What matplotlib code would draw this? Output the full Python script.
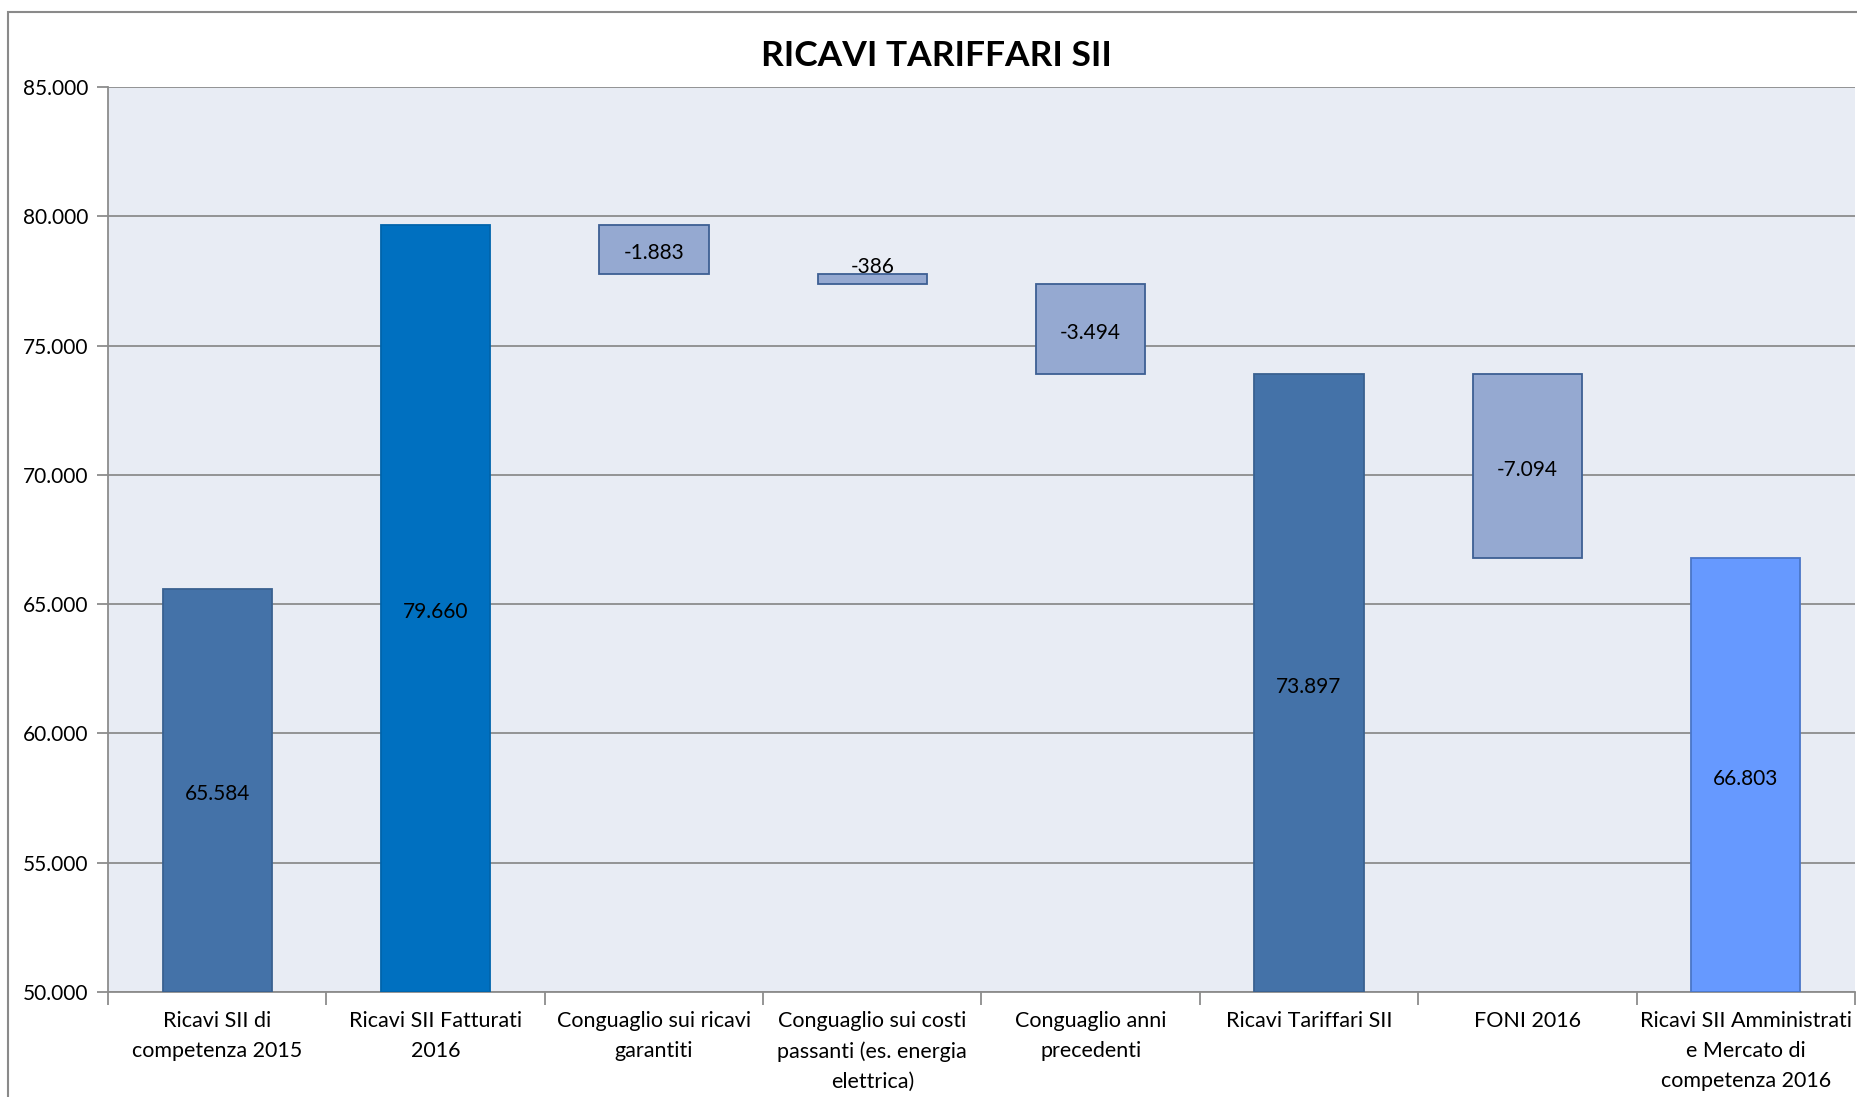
import numpy as np
import matplotlib.pyplot as plt
from matplotlib.patches import Rectangle
from matplotlib.ticker import FuncFormatter

plt.rcParams['font.family'] = ['Lato', 'DejaVu Sans']

categories = ['Ricavi SII di\ncompetenza 2015', 'Ricavi SII Fatturati\n2016',
              'Conguaglio sui ricavi\ngarantiti',
              'Conguaglio sui costi\npassanti (es. energia\nelettrica)',
              'Conguaglio anni\nprecedenti', 'Ricavi Tariffari SII', 'FONI 2016',
              'Ricavi SII Amministrati\ne Mercato di\ncompetenza 2016']
values = [65584, 79660, -1883, -386, -3494, 73897, -7094, 66803]
kinds = ['total', 'total', 'step', 'step', 'step', 'total', 'step', 'total']
fills = ['#4472A8', '#0070C0', '#95A9D1', '#95A9D1', '#95A9D1', '#4472A8', '#95A9D1', '#6699FF']
edges = ['#3A6190', '#0064AC', '#3D5F93', '#3D5F93', '#3D5F93', '#3A6190', '#3D5F93', '#4A76C8']
y_ticks = [50000, 55000, 60000, 65000, 70000, 75000, 80000, 85000]

fig = plt.figure(figsize=(18.58, 10.97), dpi=100)
ax = fig.add_axes([108 / 1858, 105 / 1097, 1747 / 1858, 905 / 1097])
ax.set_facecolor('#E8ECF4')

# outer chart frame
fig.patches.append(Rectangle((8 / 1858, -0.05), 1.1, (1085 / 1097) + 0.05, transform=fig.transFigure,
                             fill=False, edgecolor='#8A8A8A', linewidth=1.5, clip_on=False))

ymin = y_ticks[0]
level = 0
for i, (v, k) in enumerate(zip(values, kinds)):
    if k == 'total':
        bottom, top = ymin, v
        if i == 1:
            level = v
    else:
        top = level
        bottom = level + v
        level = bottom
    ax.bar(i, top - bottom, bottom=bottom, width=0.5, color=fills[i], edgecolor=edges[i],
           linewidth=1.3, zorder=3)
    lab = '{:,}'.format(v).replace(',', '.')
    if top - bottom < 800:
        ax.text(i, top + 40, lab, ha='center', va='baseline', fontsize=15, zorder=4)
    else:
        ax.text(i, (top + bottom) / 2 - 150, lab, ha='center', va='center', fontsize=15, zorder=4)

ax.set_ylim(50000, 85000)
ax.set_xlim(-0.5, 7.5)
ax.set_yticks(y_ticks)
ax.yaxis.set_major_formatter(FuncFormatter(lambda v, p: '{:,.0f}'.format(v).replace(',', '.')))
ax.grid(axis='y', color='#8C8C8C', linewidth=1.3, zorder=1)
ax.set_axisbelow(True)

ax.set_xticks(range(len(categories)))
ax.set_xticklabels(categories, fontsize=15.5, linespacing=1.62, va='top')
ax.set_xticks(np.arange(-0.5, 8, 1), minor=True)
ax.tick_params(axis='x', which='major', length=0, pad=14)
ax.tick_params(axis='x', which='minor', length=9, width=1.3, color='#8C8C8C', direction='out')
ax.tick_params(axis='y', length=8, width=1.3, color='#8C8C8C', labelsize=15, pad=6)

for s in ['top', 'right']:
    ax.spines[s].set_visible(False)
for s in ['left', 'bottom']:
    ax.spines[s].set_color('#8C8C8C')
    ax.spines[s].set_linewidth(1.3)

fig.text(936 / 1858, 1 - 56 / 1097, 'RICAVI TARIFFARI SII', ha='center', va='center',
         fontsize=25.5, fontweight='bold')

fig.savefig('out.png', dpi=100, facecolor='white')
